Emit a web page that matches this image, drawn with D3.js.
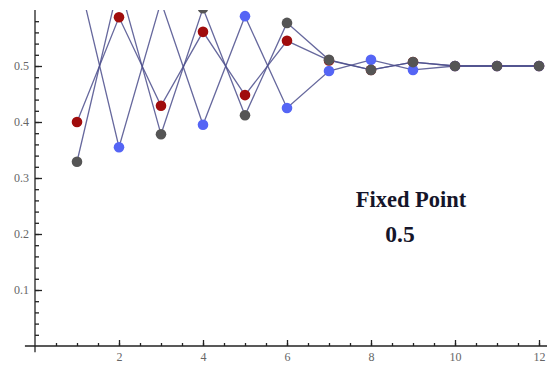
<!DOCTYPE html>
<html>
<head lang="en">
  <meta charset="UTF-8">
  <title>Fixed Point</title>
</head>
<style>
  body { margin: 0; background: #fff; }
  #chart text { font-family: "Liberation Serif", "DejaVu Serif", serif; }
  #chart .axis text { fill: #666; font-size: 12px; }
  #chart .axis line { stroke: #222; stroke-width: 1.3; }
  #chart .series-line { fill: none; stroke: #4b4d8c; stroke-width: 1.3; stroke-opacity: 0.85; }
</style>
<body>

<svg id="chart"></svg>

<script src="https://cdn.jsdelivr.net/npm/d3@7"></script>
<script>
  var width  = 547;
  var height = 365;

  // iterations
  var steps = [1, 2, 3, 4, 5, 6, 7, 8, 9, 10, 11, 12];

  // three starting values
  var redSeries  = [0.400, 0.587, 0.429, 0.561, 0.448, 0.545, 0.510, 0.493, 0.507, 0.500, 0.500, 0.500];
  var blueSeries = [0.670, 0.355, 0.615, 0.395, 0.589, 0.425, 0.491, 0.511, 0.493, 0.500, 0.500, 0.500];
  var graySeries = [0.329, 0.648, 0.378, 0.603, 0.412, 0.577, 0.511, 0.493, 0.507, 0.500, 0.500, 0.500];

  var seriesColors = ['#a00c0c', '#5565f5', '#555555'];

  var xTicks = [2, 4, 6, 8, 10, 12];
  var yTicks = [0.1, 0.2, 0.3, 0.4, 0.5];

  var x = d3.scaleLinear().domain([0, 12]).range([35, 539]);
  var y = d3.scaleLinear().domain([0, 0.6]).range([346, 10]);

  var chart = d3.select('#chart')
    .attr('width', width)
    .attr('height', height);

  chart.append('clipPath').attr('id', 'plotClip')
    .append('rect')
    .attr('x', x(0)).attr('y', y(0.6))
    .attr('width', width - x(0)).attr('height', y(0) - y(0.6) + 2);

  // axes lines, Mathematica style (crossing at origin)
  chart.append('line')
    .attr('x1', x(0)).attr('x2', x(0))
    .attr('y1', y(-0.011)).attr('y2', y(0.6))
    .attr('stroke', '#222').attr('stroke-width', 1.3);
  chart.append('line')
    .attr('x1', x(-0.24)).attr('x2', width)
    .attr('y1', y(0)).attr('y2', y(0))
    .attr('stroke', '#222').attr('stroke-width', 1.3);

  // minor ticks
  chart.append('g').attr('class', 'axis')
    .attr('transform', 'translate(0,' + y(0) + ')')
    .call(d3.axisBottom(x).tickValues(d3.range(0.5, 12.01, 0.5)).tickSize(-3).tickFormat(''))
    .call(function (g) { g.select('.domain').remove(); });
  chart.append('g').attr('class', 'axis')
    .attr('transform', 'translate(' + x(0) + ',0)')
    .call(d3.axisLeft(y).tickValues(d3.range(0.02, 0.6, 0.02)).tickSize(-4).tickFormat(''))
    .call(function (g) { g.select('.domain').remove(); });

  // major ticks
  chart.append('g').attr('class', 'axis')
    .attr('transform', 'translate(0,' + y(0) + ')')
    .call(d3.axisBottom(x).tickValues(xTicks).tickSize(-6).tickPadding(6).tickFormat(d3.format('d')))
    .call(function (g) { g.select('.domain').remove(); });
  chart.append('g').attr('class', 'axis')
    .attr('transform', 'translate(' + x(0) + ',0)')
    .call(d3.axisLeft(y).tickValues(yTicks).tickSize(-7).tickPadding(6).tickFormat(d3.format('.1f')))
    .call(function (g) { g.select('.domain').remove(); });

  var allSeries = [redSeries, blueSeries, graySeries];

  var plot = chart.append('g').attr('clip-path', 'url(#plotClip)');

  var line = d3.line()
    .x(function (d, i) { return x(steps[i]); })
    .y(function (d) { return y(d); });

  plot.selectAll('path.series-line')
    .data(allSeries)
    .enter()
      .append('path')
      .attr('class', 'series-line')
      .attr('d', line);

  allSeries.forEach(function (values, s) {
    plot.selectAll(null)
      .data(values)
      .enter()
        .append('circle')
        .attr('cx', function (d, i) { return x(steps[i]); })
        .attr('cy', function (d) { return y(d); })
        .attr('r', 5.3)
        .attr('fill', seriesColors[s]);
  });

  // annotation
  chart.append('text')
    .attr('x', 411).attr('y', 207)
    .attr('text-anchor', 'middle')
    .attr('font-weight', 'bold')
    .attr('font-size', 22.5)
    .attr('fill', '#15152a')
    .text('Fixed Point');
  chart.append('text')
    .attr('x', 400).attr('y', 242)
    .attr('text-anchor', 'middle')
    .attr('font-weight', 'bold')
    .attr('font-size', 23.5)
    .attr('fill', '#15152a')
    .text('0.5');
</script>
</body>
</html>
